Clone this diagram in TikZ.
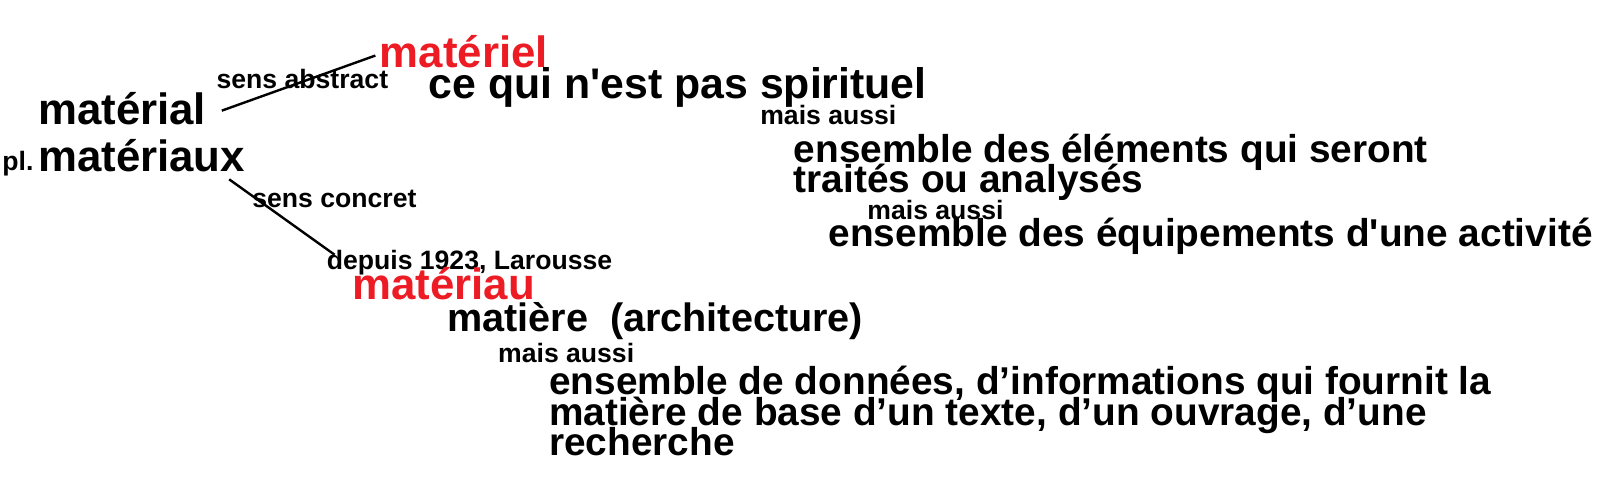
\documentclass[tikz,border=0pt]{standalone}
\usepackage{fontspec}
\setmainfont{Liberation Sans}[Ligatures=TeXOff]
\usetikzlibrary{calc}
\definecolor{motrouge}{RGB}{237,28,36}
\newcommand\lignesserrees{\lineskiplimit=-20pt\relax\lineskip=0pt\relax}
\begin{document}
\begin{tikzpicture}[x=0.51pt,y=-0.51pt,
		mot/.style={inner sep=0pt,anchor=base west,font=\fontsize{21.9}{21.9}\selectfont\bfseries},
		sens/.style={inner sep=0pt,anchor=base west,align=left,
			font={\fontsize{19.4}{15.3}\selectfont\bfseries\lignesserrees}},
		note/.style={inner sep=0pt,anchor=base west,font=\fontsize{13.3}{13.3}\selectfont\bfseries},
		lien/.style={line width=1.2pt}]
		\useasboundingbox (0,0) rectangle (1568.6,473.5);

		\node[mot] (mat) at (37,122) {matérial};
		\node[note] (pl) at (2,167) {pl.};
		\node[mot] (matx) at (37,168) {matériaux};

		% sens abstract
		\node[note] (abs) at (212,87) {sens abstract};
		\node[mot,text=motrouge] (mel) at (372,66) {matériel};
		\node[mot,font=\fontsize{21.4}{21.4}\selectfont\bfseries] (spi) at (420,97) {ce qui n'est pas spirituel};
		\node[note] (aussia) at (745,122) {mais aussi};
		\node[sens] (ensa) at (778,189) {ensemble des éléments qui seront\\traités ou analysés};
		\node[note] (aussib) at (850,215) {mais aussi};
		\node[sens] (ensb) at (812,242) {ensemble des équipements d'une activité};

		% sens concret
		\node[note] (con) at (247,203) {sens concret};
		\node[note] (dep) at (320,264) {depuis 1923, Larousse};
		\node[mot,text=motrouge] (mau) at (345,294) {matériau};
		\node[mot,font=\fontsize{19.8}{19.8}\selectfont\bfseries] (mtr) at (438,325) {matière\ \ (architecture)};
		\node[note] (aussic) at (488,355) {mais aussi};
		\node[sens] (ensc) at (538,447) {ensemble de données, d’informations qui fournit la\\matière de base d’un texte, d’un ouvrage, d’une\\recherche};

		\draw[lien] ($(mat.east)+(15,2)$) -- ($(mel.west)+(-4,4)$);
		\draw[lien] ($(matx.south east)+(-16,7)$) -- ($(dep.north west)+(8,5)$);
	\end{tikzpicture}
\end{document}
